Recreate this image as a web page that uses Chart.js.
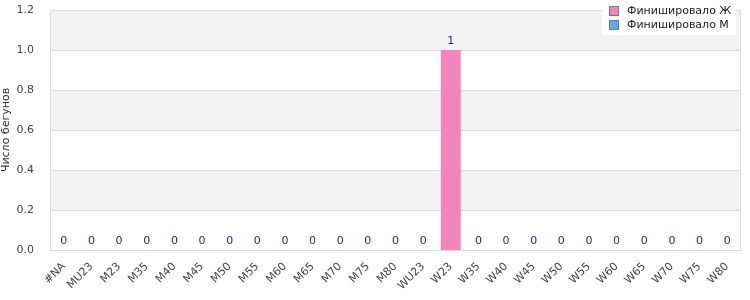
<!DOCTYPE html>
<html><head><meta charset="utf-8">
<script src="https://cdn.jsdelivr.net/npm/chart.js@4/dist/chart.umd.min.js"></script>
<style>html,body{margin:0;padding:0;background:#fff}#wrap{width:750px;height:300px}</style>
</head><body><div id="wrap"><canvas id="c" width="750" height="300"></canvas></div>
<script>
const categories = ["#NA","MU23","M23","M35","M40","M45","M50","M55","M60","M65","M70","M75","M80","WU23","W23","W35","W40","W45","W50","W55","W60","W65","W70","W75","W80"];
const finishedW = [0,0,0,0,0,0,0,0,0,0,0,0,0,0,1,0,0,0,0,0,0,0,0,0,0];
const finishedM = [0,0,0,0,0,0,0,0,0,0,0,0,0,0,0,0,0,0,0,0,0,0,0,0,0];
const seriesNames = ["Финишировало Ж","Финишировало М"];
const seriesColors = ["#f285b9","#62aaea"];
const yTicks = [0,0.2,0.4,0.6,0.8,1.0,1.2];
const FONT = "DejaVu Sans";

const bands = {
  id:'bands',
  beforeDatasetsDraw(chart){
    const {ctx, chartArea:a, scales:{y}} = chart;
    ctx.save();
    for(let i=0;i<yTicks.length-1;i++){
      if(i%2===1){
        const t=y.getPixelForValue(yTicks[i+1]), b=y.getPixelForValue(yTicks[i]);
        ctx.fillStyle='#f2f2f2'; ctx.fillRect(a.left,t,a.right-a.left,b-t);
      }
    }
    ctx.strokeStyle='#dcdcdc'; ctx.lineWidth=1;
    for(const v of yTicks){
      const p=Math.round(y.getPixelForValue(v))+0.5;
      ctx.beginPath(); ctx.moveTo(a.left,p); ctx.lineTo(a.right,p); ctx.stroke();
    }
    ctx.beginPath(); ctx.moveTo(Math.round(a.left)+0.5,a.top); ctx.lineTo(Math.round(a.left)+0.5,a.bottom); ctx.stroke();
    ctx.beginPath(); ctx.moveTo(Math.round(a.right)-0.5,a.top); ctx.lineTo(Math.round(a.right)-0.5,a.bottom); ctx.stroke();
    ctx.restore();
  }
};
const totals = {
  id:'totals',
  afterDatasetsDraw(chart){
    const {ctx, scales:{x,y}} = chart;
    ctx.save();
    ctx.font = '11px "'+FONT+'"'; ctx.fillStyle='#1f1f8f'; ctx.textAlign='center'; ctx.textBaseline='bottom';
    categories.forEach((c,i)=>{
      const tot = finishedW[i]+finishedM[i];
      ctx.fillText(String(tot), x.getPixelForValue(i), y.getPixelForValue(tot)-3);
    });
    ctx.restore();
  }
};
const legendBox = {
  id:'legendBox',
  afterDraw(chart){
    const ctx=chart.ctx;
    ctx.save();
    ctx.fillStyle='#ffffff'; ctx.fillRect(602,0,134,35);
    ctx.font='11px "'+FONT+'"'; ctx.textBaseline='middle'; ctx.textAlign='left';
    seriesNames.forEach((n,i)=>{
      const yy=11+i*14;
      ctx.fillStyle=seriesColors[i]; ctx.fillRect(610,yy-4,8,8);
      ctx.strokeStyle='#777'; ctx.lineWidth=1; ctx.strokeRect(609.5,yy-4.5,9,9);
      ctx.fillStyle='#222'; ctx.fillText(n,627,yy);
    });
    ctx.restore();
  }
};

new Chart(document.getElementById('c'),{
  type:'bar',
  data:{labels:categories,datasets:[
    {label:seriesNames[0],data:finishedW,backgroundColor:seriesColors[0]},
    {label:seriesNames[1],data:finishedM,backgroundColor:seriesColors[1]}
  ]},
  options:{
    responsive:false,animation:false,
    layout:{padding:{top:10,right:9,left:0,bottom:0}},
    datasets:{bar:{categoryPercentage:1,barPercentage:0.72}},
    plugins:{legend:{display:false},tooltip:{enabled:false}},
    scales:{
      x:{stacked:true,grid:{display:false},border:{display:true,color:'#dcdcdc'},
        ticks:{autoSkip:false,maxRotation:45,minRotation:45,color:'#444',font:{family:FONT,size:11},padding:2},
        afterFit(s){s.height=50;s.paddingLeft=0;s.paddingRight=0;}},
      y:{stacked:true,min:0,max:1.2,grid:{display:false},border:{display:false},
        ticks:{stepSize:0.2,color:'#444',font:{family:FONT,size:11},padding:8,callback:v=>Number(v).toFixed(1)},
        title:{display:true,text:'Число бегунов',color:'#333',font:{family:FONT,size:11},padding:{top:0,bottom:4}},
        afterFit(s){s.width=50;s.paddingTop=0;s.paddingBottom=0;}}
    }
  },
  plugins:[bands,totals,legendBox]
});
</script></body></html>
